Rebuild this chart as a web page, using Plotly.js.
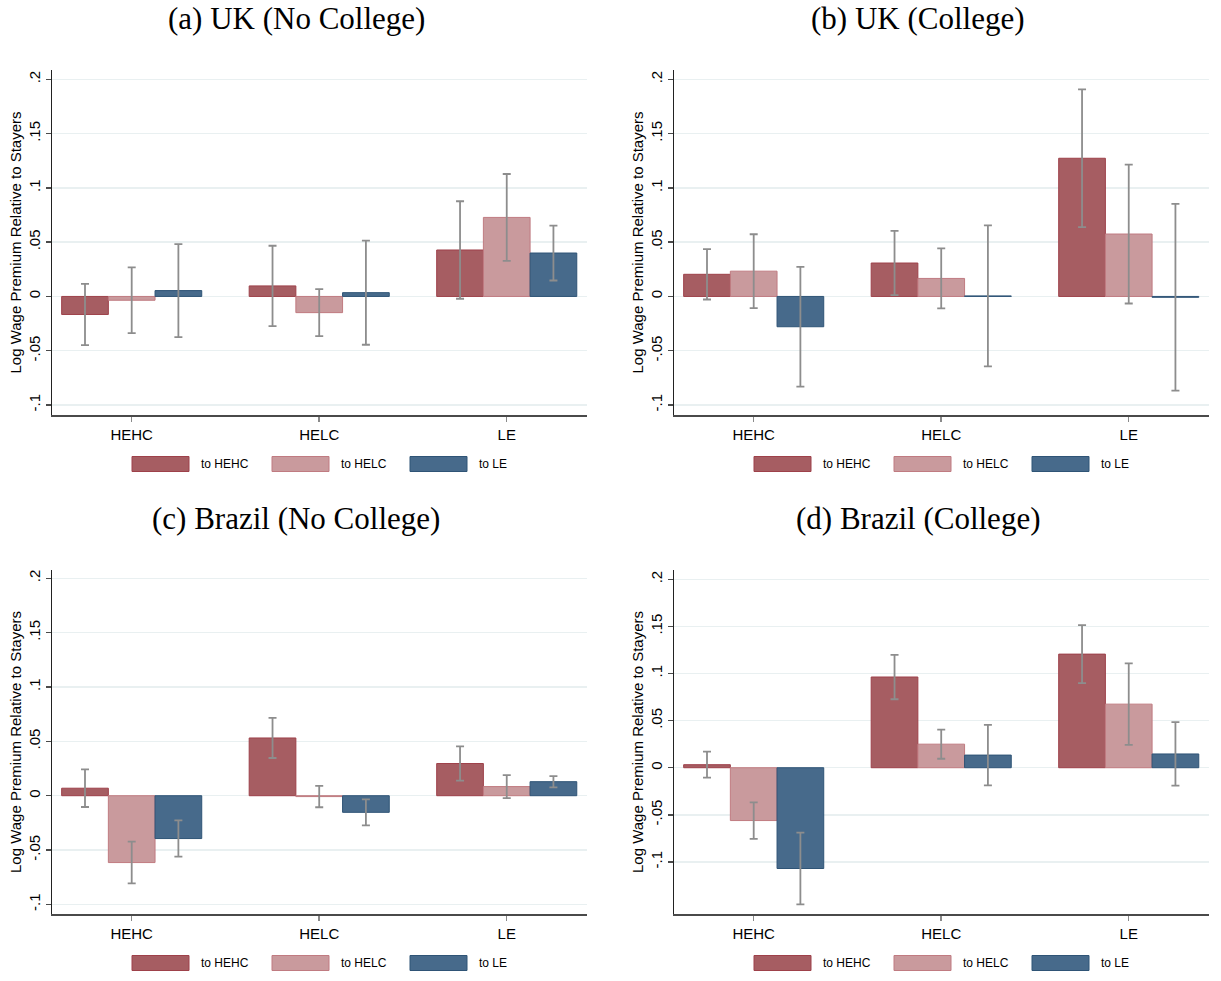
<!DOCTYPE html>
<html>
<head>
<meta charset="utf-8">
<script src="https://cdn.plot.ly/plotly-3.0.1.min.js"></script>
<style>
  html, body { margin: 0; padding: 0; background: #ffffff; }
  #chart { width: 1221px; height: 981px; }
</style>
</head>
<body>
<div id="chart"></div>
<script>
// Origin categories on the x axis and destination series
const categories = ['HEHC', 'HELC', 'LE'];
const seriesNames = ['to HEHC', 'to HELC', 'to LE'];
const panelTitles = ['(a) UK (No College)', '(b) UK (College)',
                     '(c) Brazil (No College)', '(d) Brazil (College)'];
const yTitle = 'Log Wage Premium Relative to Stayers';
const tickVals = [-0.1, -0.05, 0, 0.05, 0.1, 0.15, 0.2];
const tickText = ['-.1', '-.05', '0', '.05', '.1', '.15', '.2'];

// Point estimates: rows = series (to HEHC, to HELC, to LE), columns = categories
const ukNoCollegeEst = [
  [-0.0166, 0.0097, 0.0428],
  [-0.0035, -0.0149, 0.0728],
  [0.0054, 0.0035, 0.0400]
];
const ukNoCollegeCI = [
  [0.0282, 0.0370, 0.0449],
  [0.0302, 0.0216, 0.0400],
  [0.0428, 0.0480, 0.0253]
];

const ukCollegeEst = [
  [0.0204, 0.0308, 0.1273],
  [0.0233, 0.0166, 0.0575],
  [-0.0279, 0.0005, -0.0008]
];
const ukCollegeCI = [
  [0.0232, 0.0296, 0.0635],
  [0.0340, 0.0276, 0.0640],
  [0.0552, 0.0650, 0.0860]
];

const brNoCollegeEst = [
  [0.0069, 0.0531, 0.0296],
  [-0.0615, -0.0008, 0.0084],
  [-0.0394, -0.0153, 0.0129]
];
const brNoCollegeCI = [
  [0.0173, 0.0184, 0.0158],
  [0.0192, 0.0098, 0.0106],
  [0.0167, 0.0120, 0.0052]
];

const brCollegeEst = [
  [0.0032, 0.0963, 0.1206],
  [-0.0561, 0.0250, 0.0675],
  [-0.1070, 0.0134, 0.0146]
];
const brCollegeCI = [
  [0.0138, 0.0236, 0.0307],
  [0.0194, 0.0155, 0.0432],
  [0.0380, 0.0321, 0.0337]
];

// Styling
const fillColors = ['#a65d62', '#c99a9d', '#476a8b'];
const lineColors = ['#9e414a', '#c07b81', '#2f5476'];
const ciColor = '#8d8d8d';

const W = 1221, H = 981;
const px2x = p => p / W;
const px2y = p => (H - p) / H;

// Panel boxes in pixels: left, right, top, bottom, y-range
const panels = [
  { est: ukNoCollegeEst, ci: ukNoCollegeCI, l: 52,  r: 587,  t: 70,  b: 415, yr: [-0.1092, 0.2086], title: [296, 18] },
  { est: ukCollegeEst,   ci: ukCollegeCI,   l: 674, r: 1209, t: 70,  b: 415, yr: [-0.1092, 0.2086], title: [918, 18] },
  { est: brNoCollegeEst, ci: brNoCollegeCI, l: 52,  r: 587,  t: 570, b: 914, yr: [-0.1088, 0.2076], title: [296, 518] },
  { est: brCollegeEst,   ci: brCollegeCI,   l: 674, r: 1209, t: 570, b: 914, yr: [-0.1553, 0.2099], title: [918, 518] }
];

const traces = [];
const layout = {
  width: W, height: H,
  margin: { l: 0, r: 0, t: 0, b: 0 },
  paper_bgcolor: '#ffffff',
  plot_bgcolor: '#ffffff',
  barmode: 'group',
  bargap: 0.253,
  bargroupgap: 0,
  showlegend: false,
  font: { family: 'Liberation Sans, Arial, sans-serif', color: '#000000' },
  annotations: [],
  shapes: []
};

panels.forEach((p, i) => {
  const sfx = i === 0 ? '' : String(i + 1);
  const xa = 'x' + sfx, ya = 'y' + sfx;

  for (let s = 0; s < seriesNames.length; s++) {
    traces.push({
      type: 'bar',
      name: seriesNames[s],
      x: categories,
      y: p.est[s],
      xaxis: xa, yaxis: ya,
      marker: { color: fillColors[s], line: { color: lineColors[s], width: 1 } },
      error_y: { type: 'data', array: p.ci[s], visible: true,
                 color: ciColor, thickness: 1.8, width: 4 },
      hoverinfo: 'x+y+name'
    });
  }

  layout['xaxis' + sfx] = {
    domain: [px2x(p.l), px2x(p.r)],
    anchor: ya,
    type: 'category',
    range: [-0.425, 2.428],
    showgrid: false,
    zeroline: false,
    showline: true, linecolor: '#4a4a4a', linewidth: 1.5,
    ticks: 'outside', ticklen: 5, tickwidth: 1.5, tickcolor: '#8a8a8a',
    tickfont: { size: 15, color: '#000000' },
    fixedrange: true
  };
  layout['yaxis' + sfx] = {
    domain: [px2y(p.b), px2y(p.t)],
    anchor: xa,
    range: p.yr,
    tickmode: 'array', tickvals: tickVals, ticktext: tickText,
    tickangle: -90,
    ticks: 'outside', ticklen: 5, tickwidth: 1.5, tickcolor: '#4a4a4a',
    tickfont: { size: 15, color: '#000000' },
    showline: true, linecolor: '#222222', linewidth: 1.5,
    showgrid: true, gridcolor: '#e9f0f1', gridwidth: 1.5,
    zeroline: false,
    title: { text: yTitle, font: { size: 15, color: '#000000' }, standoff: 0 },
    fixedrange: true
  };

  // Panel title
  layout.annotations.push({
    xref: 'paper', yref: 'paper',
    x: px2x(p.title[0]), y: px2y(p.title[1]),
    xanchor: 'center', yanchor: 'middle',
    text: panelTitles[i], showarrow: false,
    font: { family: 'Liberation Serif, Times New Roman, serif', size: 31, color: '#000000' }
  });

  // Legend row under the panel
  const legY = p.b + 49;             // centre line of the legend row
  const offsets = [80, 220, 358];   // swatch left edges relative to the axis line
  for (let s = 0; s < seriesNames.length; s++) {
    const x0 = p.l + offsets[s], x1 = x0 + 57;
    layout.shapes.push({
      type: 'rect', xref: 'paper', yref: 'paper',
      x0: px2x(x0), x1: px2x(x1), y0: px2y(legY + 7.5), y1: px2y(legY - 7.5),
      fillcolor: fillColors[s], line: { color: lineColors[s], width: 1 }
    });
    layout.annotations.push({
      xref: 'paper', yref: 'paper',
      x: px2x(x1 + 10), y: px2y(legY),
      xanchor: 'left', yanchor: 'middle',
      text: seriesNames[s], showarrow: false,
      font: { size: 12, color: '#000000' }
    });
  }
});

Plotly.newPlot('chart', traces, layout, { displayModeBar: false, staticPlot: true });
</script>
</body>
</html>
